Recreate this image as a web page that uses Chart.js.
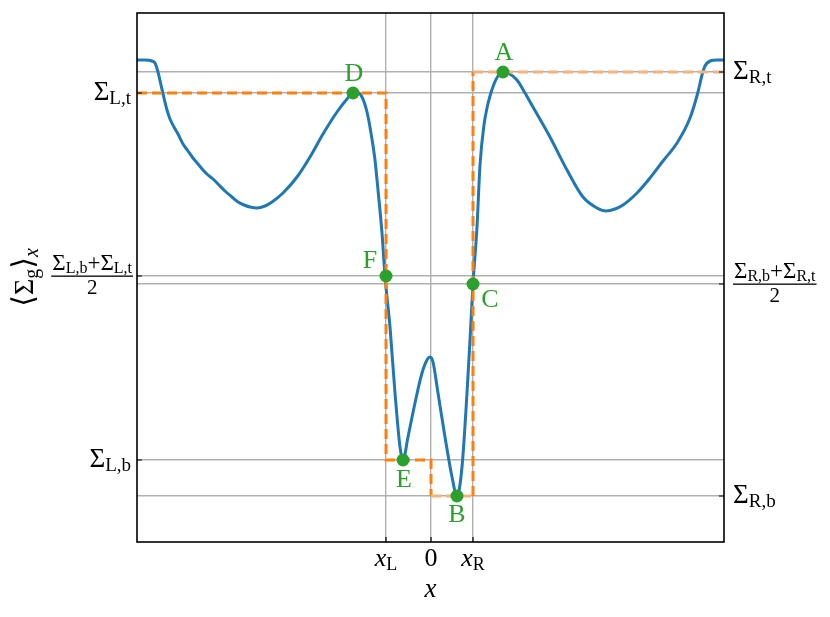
<!DOCTYPE html>
<html>
<head>
<meta charset="utf-8">
<script src="https://cdn.jsdelivr.net/npm/chart.js@4/dist/chart.umd.min.js"></script>
<style>
  html, body { margin: 0; padding: 0; background: #fff; }
  #wrap { width: 830px; height: 617px; }
</style>
</head>
<body>
<div id="wrap"><canvas id="chart"></canvas></div>
<script>
// curve <Sigma_g>_x against x (arbitrary units)
const curveX = [-294, -286, -279, -276, -273, -270, -267, -264, -261, -257, -253, -248, -243, -238, -233, -228, -223, -218, -213, -206, -199, -193, -187, -181, -174, -166, -159, -148, -134, -121, -108, -94, -84, -78, -73, -69, -64, -60, -56, -53, -49, -46, -41, -36, -31, -28, -23, -16, -9, -4, -1, 2, 7, 14, 21, 26, 31, 36, 39, 42, 46, 49, 53, 56, 59, 63, 67, 72, 77, 86, 94, 102, 119, 136, 152, 166, 175, 184, 192, 206, 219, 232, 246, 259, 267, 271, 274, 279, 286, 293];
const curveY = [482, 482, 481, 479, 470, 457, 444, 432, 423, 415, 408, 398, 391, 384, 378, 372, 367, 363, 358, 351, 345, 340, 337, 335, 334, 336, 340, 349, 365, 385, 408, 430, 443, 449, 449, 445, 430, 409, 382, 352, 309, 266, 215, 149, 95, 82, 105, 139, 169, 182, 185, 180, 149, 105, 65, 46, 75, 149, 202, 258, 315, 377, 417, 434, 446, 458, 466, 470, 469, 462, 449, 435, 405, 372, 345, 334, 331, 333, 337, 349, 364, 381, 399, 424, 450, 467, 476, 481, 482, 482];

// special levels
const sigLt = 449, sigLb = 82, sigRt = 470, sigRb = 46;
const midL = 266, midR = 258;
const xL = -45, x0 = 0, xR = 42;

// marked points
const ptNames = ['A', 'B', 'C', 'D', 'E', 'F'];
const ptX = [72, 26, 42, -78, -28, -45];
const ptY = [470, 46, 258, 449, 82, 266];

// orange step path
const stepX = [-294, -45, -45, 0, 0, 42, 42, 293];
const stepY = [449, 449, 82, 82, 46, 46, 470, 470];

const xTicks = [xL, x0, xR];
const leftTicks = [sigLb, midL, sigLt];
const rightTicks = [sigRb, midR, sigRt];

const SERIF = '"Liberation Serif", "DejaVu Serif", serif';
const rm = s => s + 'px ' + SERIF;
const it = s => 'italic ' + s + 'px ' + SERIF;
const GRID = '#b0b0b0';
const GREEN = '#2ca02c';
const ORANGE = '#ff7f0e';

const zip = (xs, ys) => xs.map((x, i) => ({ x: x, y: ys[i] }));

function rich(ctx, parts, x, y, align) {
    let w = 0;
    parts.forEach(p => { ctx.font = p.f; p.w = ctx.measureText(p.t).width; w += p.w; });
    let cx = align === 'right' ? x - w : align === 'center' ? x - w / 2 : x;
    parts.forEach(p => { ctx.font = p.f; ctx.fillText(p.t, cx, y + (p.dy || 0)); cx += p.w; });
    return w;
}

function sigma(sub) {
    return [{ t: 'Σ', f: rm(27) }, { t: sub, f: rm(19), dy: 4 }];
}

function frac(ctx, side, x, y, align) {
    const num = [
        { t: 'Σ', f: rm(23) }, { t: side + ',b', f: rm(16), dy: 3 },
        { t: '+', f: rm(23) },
        { t: 'Σ', f: rm(23) }, { t: side + ',t', f: rm(16), dy: 3 }
    ];
    let w = 0;
    num.forEach(p => { ctx.font = p.f; w += ctx.measureText(p.t).width; });
    const left = align === 'right' ? x - w - 2 : x;
    const cx = left + 1 + w / 2;
    rich(ctx, num, cx, y - 6, 'center');
    ctx.fillRect(left, y - 0.5, w + 2, 1.3);
    ctx.font = rm(21);
    ctx.textAlign = 'center';
    ctx.fillText('2', cx, y + 18);
    ctx.textAlign = 'left';
}

// where each point label sits relative to its point (pixels)
const labelOffset = { A: [1, -12], B: [0, 26], C: [17, 23], D: [1, -12], E: [1, 27], F: [-16, -8] };

const decorations = {
    id: 'decorations',
    afterDraw(chart) {
        const ctx = chart.ctx;
        const a = chart.chartArea;
        const sx = chart.scales.x, sy = chart.scales.y;
        ctx.save();
        ctx.fillStyle = '#000';
        ctx.strokeStyle = '#000';
        ctx.textBaseline = 'alphabetic';
        ctx.textAlign = 'left';

        // inward ticks
        ctx.lineWidth = 1.2;
        ctx.beginPath();
        leftTicks.forEach(v => { const p = sy.getPixelForValue(v); ctx.moveTo(a.left, p); ctx.lineTo(a.left + 5, p); });
        rightTicks.forEach(v => { const p = sy.getPixelForValue(v); ctx.moveTo(a.right, p); ctx.lineTo(a.right - 5, p); });
        xTicks.forEach(v => { const p = sx.getPixelForValue(v); ctx.moveTo(p, a.bottom); ctx.lineTo(p, a.bottom - 5); });
        ctx.stroke();

        // frame
        ctx.lineWidth = 1.6;
        ctx.strokeRect(a.left, a.top, a.right - a.left, a.bottom - a.top);

        // left tick labels
        rich(ctx, sigma('L,t'), a.left - 6, sy.getPixelForValue(sigLt) + 7, 'right');
        rich(ctx, sigma('L,b'), a.left - 6, sy.getPixelForValue(sigLb) + 7, 'right');
        frac(ctx, 'L', a.left - 4, sy.getPixelForValue(midL), 'right');

        // right tick labels
        rich(ctx, sigma('R,t'), a.right + 9, sy.getPixelForValue(sigRt) + 7, 'left');
        rich(ctx, sigma('R,b'), a.right + 9, sy.getPixelForValue(sigRb) + 7, 'left');
        frac(ctx, 'R', a.right + 9, sy.getPixelForValue(midR), 'left');

        // x tick labels
        const xb = a.bottom + 24;
        rich(ctx, [{ t: 'x', f: it(26) }, { t: 'L', f: rm(18), dy: 4 }], sx.getPixelForValue(xL), xb, 'center');
        rich(ctx, [{ t: '0', f: rm(26) }], sx.getPixelForValue(x0), xb, 'center');
        rich(ctx, [{ t: 'x', f: it(26) }, { t: 'R', f: rm(18), dy: 4 }], sx.getPixelForValue(xR), xb, 'center');

        // x axis title
        rich(ctx, [{ t: 'x', f: it(27) }], (a.left + a.right) / 2, a.bottom + 55, 'center');

        // y axis title, rotated
        ctx.save();
        ctx.translate(33, (a.top + a.bottom) / 2);
        ctx.rotate(-Math.PI / 2);
        rich(ctx, [
            { t: '⟨', f: rm(30) }, { t: 'Σ', f: rm(28) }, { t: 'g', f: rm(20), dy: 5 },
            { t: '⟩', f: rm(30) }, { t: 'x', f: it(20), dy: 5 }
        ], 0, 0, 'center');
        ctx.restore();

        // point labels
        ctx.fillStyle = GREEN;
        ptNames.forEach((n, i) => {
            const o = labelOffset[n];
            rich(ctx, [{ t: n, f: rm(26) }], sx.getPixelForValue(ptX[i]) + o[0], sy.getPixelForValue(ptY[i]) + o[1], 'center');
        });
        ctx.restore();
    }
};

const fixTicks = vals => axis => { axis.ticks = vals.map(v => ({ value: v })); };
const gridOpts = { color: GRID, lineWidth: 1.4, drawTicks: false };

new Chart(document.getElementById('chart'), {
    type: 'scatter',
    data: {
        datasets: [
            {
                label: 'points',
                data: zip(ptX, ptY),
                pointRadius: 6.5,
                pointBackgroundColor: GREEN,
                pointBorderWidth: 0,
                showLine: false,
                order: 0
            },
            {
                label: 'step',
                data: zip(stepX, stepY),
                showLine: true,
                borderColor: ORANGE,
                borderWidth: 3,
                borderDash: [10, 5],
                pointRadius: 0,
                tension: 0,
                segment: {
                    borderColor: c => (c.p0.parsed.y === c.p1.parsed.y && (c.p0.parsed.y === sigRt || c.p0.parsed.y === sigRb)) ? '#f3b27f' : ORANGE,
                    borderWidth: 3,
                    borderDash: [10, 5]
                },
                order: 1
            },
            {
                label: 'curve',
                data: zip(curveX, curveY),
                showLine: true,
                borderColor: '#1f77b4',
                borderWidth: 3,
                pointRadius: 0,
                cubicInterpolationMode: 'monotone',
                order: 2
            }
        ]
    },
    options: {
        responsive: true,
        maintainAspectRatio: false,
        animation: false,
        layout: { padding: { top: 13, left: 0, right: 0, bottom: 0 } },
        plugins: {
            legend: { display: false },
            tooltip: { enabled: false }
        },
        scales: {
            x: {
                type: 'linear',
                min: -294,
                max: 293,
                afterBuildTicks: fixTicks(xTicks),
                ticks: { display: false },
                grid: gridOpts,
                border: { display: false },
                afterFit: s => { s.height = 75; }
            },
            y: {
                type: 'linear',
                position: 'left',
                min: 0,
                max: 529,
                afterBuildTicks: fixTicks(leftTicks),
                ticks: { display: false },
                grid: gridOpts,
                border: { display: false },
                afterFit: s => { s.width = 137; }
            },
            y2: {
                type: 'linear',
                position: 'right',
                min: 0,
                max: 529,
                afterBuildTicks: fixTicks(rightTicks),
                ticks: { display: false },
                grid: gridOpts,
                border: { display: false },
                afterFit: s => { s.width = 106; }
            }
        }
    },
    plugins: [decorations]
});
</script>
</body>
</html>
